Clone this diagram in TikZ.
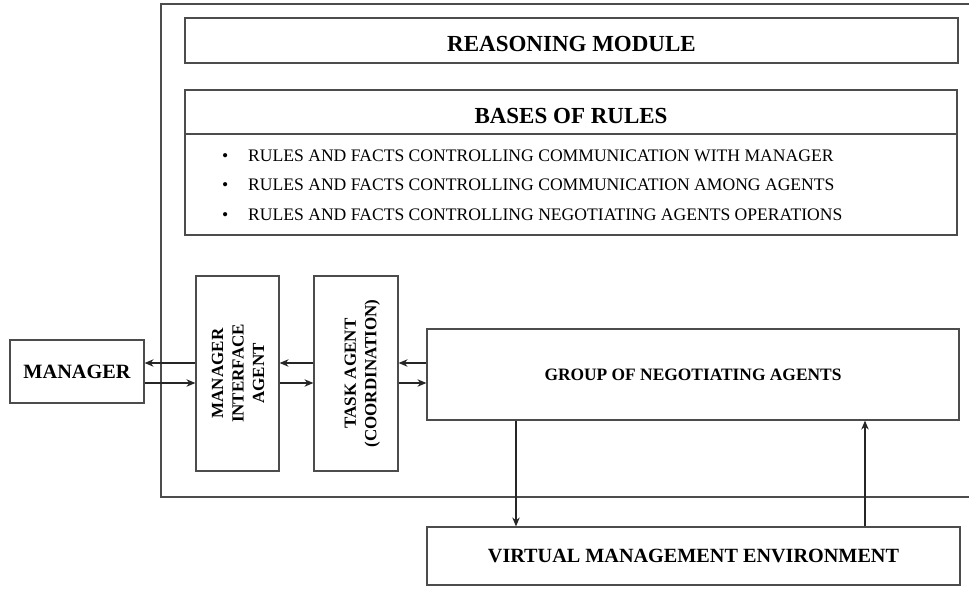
\documentclass[tikz,border=0pt]{standalone}
\usepackage{fontspec}
\setmainfont{Liberation Serif}
\usepackage{graphicx}
\usetikzlibrary{arrows.meta}

\begin{document}
\begin{tikzpicture}[x=1pt,y=-1pt,
  box/.style={draw=black!70, line width=1.2pt, rectangle, inner sep=0pt},
  head/.style={text height=22pt, text depth=0pt, font=\fontsize{23}{27}\selectfont\bfseries},
  item/.style={inner sep=0pt, anchor=base west, font=\fontsize{17.6}{20}\selectfont},
  vtext/.style={font=\fontsize{17}{20.5}\selectfont\bfseries},
  arr/.style={-{Stealth[length=9pt,width=7.5pt]}, line width=1.2pt, draw=black!85}]
  \useasboundingbox (0,0) rectangle (969,592);
  % outer frame, open on the right
  \draw[line width=1.2pt, black!70] (969,4) -- (161,4) -- (161,497) -- (969,497);

  \node[box, head, minimum width=773pt, minimum height=45pt] (reason) at (571.5,40.5) {REASONING MODULE};
  \node[box, head, minimum width=772pt, minimum height=44pt] (bases) at (571,112) {BASES OF RULES};
  \node[box, minimum width=772pt, minimum height=101pt] (rules) at (571,184.5) {};
  \node[item] (r1) at (248,161) {\llap{\textbullet\hspace{20pt}}RULES AND FACTS CONTROLLING COMMUNICATION WITH MANAGER};
  \node[item] (r2) at (248,190.5) {\llap{\textbullet\hspace{20pt}}RULES AND FACTS CONTROLLING COMMUNICATION AMONG AGENTS};
  \node[item] (r3) at (248,220) {\llap{\textbullet\hspace{20pt}}RULES AND FACTS CONTROLLING NEGOTIATING AGENTS OPERATIONS};

  \node[box, minimum width=134pt, minimum height=63pt, font=\fontsize{20.3}{24}\selectfont\bfseries] (mgr) at (77,371.5) {MANAGER};
  \node[box, vtext, minimum width=83pt, minimum height=195pt] (mia) at (237.5,373.5)
    {\hspace{4pt}\rotatebox{90}{\begin{tabular}{@{}c@{}}MANAGER\\INTERFACE\\AGENT\end{tabular}}};
  \node[box, vtext, minimum width=84pt, minimum height=195pt] (task) at (356,373.5)
    {\hspace{12pt}\rotatebox{90}{\begin{tabular}{@{}c@{}}TASK AGENT\\(COORDINATION)\end{tabular}}};
  \node[box, minimum width=532pt, minimum height=91pt, font=\fontsize{17.4}{21}\selectfont\bfseries] (group) at (693,374.5) {GROUP OF NEGOTIATING AGENTS};
  \node[box, minimum width=533pt, minimum height=58pt, font=\fontsize{20.2}{24}\selectfont\bfseries] (vme) at (693.5,556) {VIRTUAL MANAGEMENT ENVIRONMENT};

  \coordinate (hi) at (0,363);
  \coordinate (lo) at (0,383);
  \coordinate (dn) at (516,0);
  \coordinate (up) at (865,0);

  \draw[arr] (mia.west |- hi) -- (mgr.east |- hi);
  \draw[arr] (mgr.east |- lo) -- (mia.west |- lo);
  \draw[arr] (task.west |- hi) -- (mia.east |- hi);
  \draw[arr] (mia.east |- lo) -- (task.west |- lo);
  \draw[arr] (group.west |- hi) -- (task.east |- hi);
  \draw[arr] (task.east |- lo) -- (group.west |- lo);
  \draw[arr] (group.south -| dn) -- (vme.north -| dn);
  \draw[arr] (vme.north -| up) -- (group.south -| up);
\end{tikzpicture}
\end{document}
